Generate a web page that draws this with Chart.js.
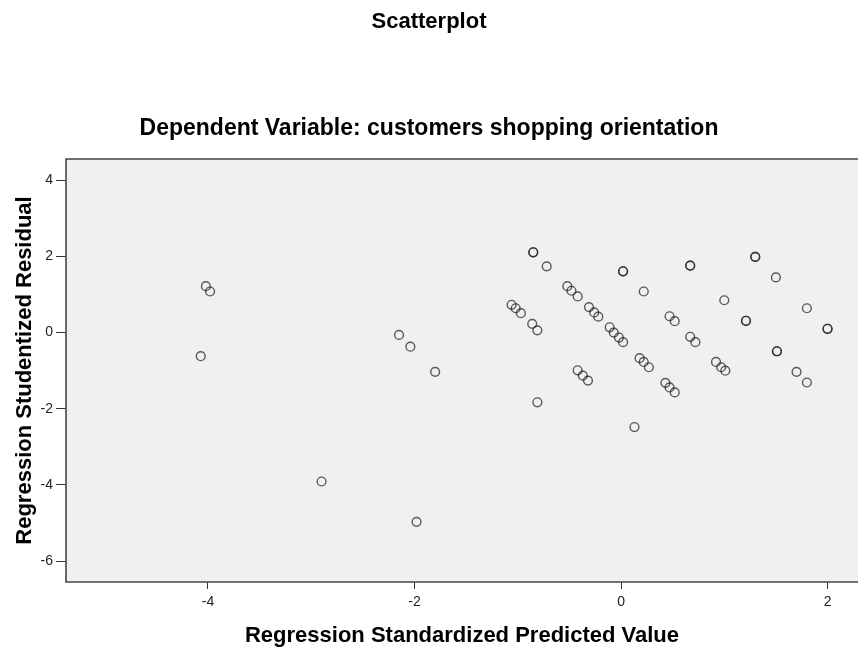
<!DOCTYPE html>
<html>
<head>
<meta charset="utf-8">
<title>Scatterplot</title>
<script src="https://cdn.jsdelivr.net/npm/chart.js@4/dist/chart.umd.min.js"></script>
<style>
  html, body { margin: 0; padding: 0; background: #fff; }
  #wrap { width: 858px; height: 649px; }
</style>
</head>
<body>
<div id="wrap"><canvas id="chart"></canvas></div>
<script>
// predicted values (x) and studentized residuals (y)
const predicted = [
  -4.02, -3.98, -4.07, -2.15, -2.04, -1.80, -2.90, -1.98,
  -0.85, -0.85, -0.72, 0.02, 0.02, 0.67, 0.67, 1.30, 1.30, 1.50,
  0.22, 1.00, 1.80, 1.21, 1.21, 2.00, 2.00,
  -0.52, -0.48, -0.42, -1.06, -1.02, -0.97, -0.86, -0.81,
  -0.31, -0.26, -0.22, -0.11, -0.07, -0.02, 0.02,
  0.47, 0.52, 0.67, 0.72, 0.18, 0.22, 0.27,
  0.92, 0.97, 1.01, 1.51, 1.51, 1.70, 1.80,
  -0.42, -0.37, -0.32, 0.43, 0.47, 0.52, -0.81, 0.13
];
const residuals = [
  1.22, 1.08, -0.62, -0.06, -0.37, -1.03, -3.91, -4.97,
  2.11, 2.11, 1.74, 1.61, 1.61, 1.76, 1.76, 1.99, 1.99, 1.45,
  1.08, 0.85, 0.64, 0.31, 0.31, 0.10, 0.10,
  1.22, 1.10, 0.95, 0.73, 0.64, 0.51, 0.23, 0.06,
  0.67, 0.53, 0.42, 0.14, 0.00, -0.13, -0.25,
  0.43, 0.30, -0.11, -0.25, -0.67, -0.77, -0.91,
  -0.77, -0.91, -1.00, -0.49, -0.49, -1.03, -1.31,
  -0.99, -1.13, -1.26, -1.32, -1.44, -1.57, -1.83, -2.48
];
const xTicks = [-4, -2, 0, 2];
const yTicks = [-6, -4, -2, 0, 2, 4];

const points = predicted.map((x, i) => ({ x: x, y: residuals[i] }));

const font = "'Liberation Sans', Arial, sans-serif";

// grey plot background and frame like SPSS (right side is cut off in the original)
const plotFrame = {
  id: 'plotFrame',
  beforeDraw(chart) {
    const a = chart.chartArea;
    const ctx = chart.ctx;
    ctx.save();
    ctx.fillStyle = '#f0f0f0';
    ctx.fillRect(a.left, a.top, a.right - a.left, a.bottom - a.top);
    ctx.restore();
  },
  afterDraw(chart) {
    const a = chart.chartArea;
    const ctx = chart.ctx;
    ctx.save();
    ctx.strokeStyle = '#444';
    ctx.lineWidth = 1.6;
    ctx.beginPath();
    ctx.moveTo(a.right, a.top);
    ctx.lineTo(a.left, a.top);
    ctx.lineTo(a.left, a.bottom);
    ctx.lineTo(a.right, a.bottom);
    ctx.stroke();
    ctx.restore();
  }
};

new Chart(document.getElementById('chart'), {
  type: 'scatter',
  data: {
    datasets: [{
      data: points,
      pointStyle: 'circle',
      pointRadius: 4.4,
      pointBorderWidth: 1.4,
      pointBackgroundColor: 'rgba(0,0,0,0)',
      pointBorderColor: 'rgba(30,30,30,0.72)',
      clip: false
    }]
  },
  options: {
    responsive: true,
    maintainAspectRatio: false,
    animation: false,
    layout: { padding: 0, autoPadding: false },
    plugins: {
      legend: { display: false },
      tooltip: { enabled: false },
      title: {
        display: true,
        text: 'Scatterplot',
        color: '#000',
        font: { family: font, size: 22, weight: 'bold' },
        padding: { top: 9, bottom: 79 }
      },
      subtitle: {
        display: true,
        text: 'Dependent Variable: customers shopping orientation',
        color: '#000',
        font: { family: font, size: 23, weight: 'bold' },
        padding: { top: 0, bottom: 17 }
      }
    },
    scales: {
      x: {
        type: 'linear',
        min: -5.375,
        max: 2.295,
        afterBuildTicks: (scale) => { scale.ticks = xTicks.map(v => ({ value: v })); },
        afterFit: (scale) => {
          scale.height = 67;
          scale.paddingLeft = 0;
          scale.paddingRight = 0;
        },
        grid: {
          drawOnChartArea: false,
          drawTicks: true,
          tickLength: 7,
          color: '#333'
        },
        border: { display: false },
        ticks: {
          color: '#222',
          font: { family: font, size: 14 },
          padding: 5
        },
        title: {
          display: true,
          text: 'Regression Standardized Predicted Value',
          color: '#000',
          font: { family: font, size: 22, weight: 'bold' },
          padding: { top: 4, bottom: 0 }
        }
      },
      y: {
        type: 'linear',
        min: -6.55,
        max: 4.56,
        afterBuildTicks: (scale) => { scale.ticks = yTicks.map(v => ({ value: v })); },
        afterFit: (scale) => {
          scale.width = 66;
          scale.paddingTop = 0;
          scale.paddingBottom = 0;
        },
        grid: {
          drawOnChartArea: false,
          drawTicks: true,
          tickLength: 10,
          color: '#333'
        },
        border: { display: false },
        ticks: {
          color: '#222',
          font: { family: font, size: 14 },
          padding: 3
        },
        title: {
          display: true,
          text: 'Regression Studentized Residual',
          color: '#000',
          font: { family: font, size: 22, weight: 'bold' },
          padding: { top: 12, bottom: 0 }
        }
      }
    }
  },
  plugins: [plotFrame]
});
</script>
</body>
</html>
